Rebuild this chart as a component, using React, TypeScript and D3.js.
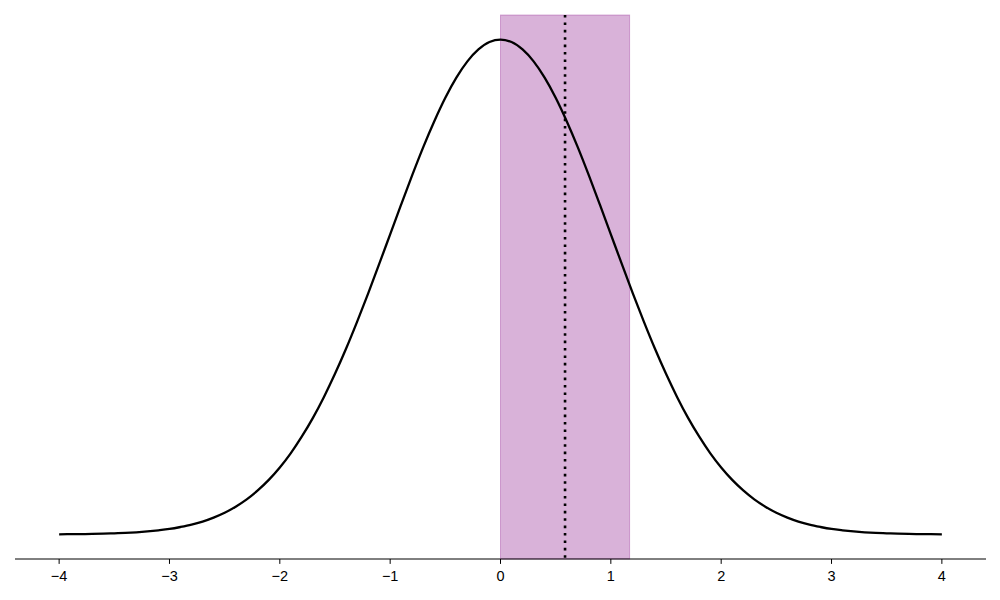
import React from "react";
import * as d3 from "d3";

// Density curve (x, density), step 0.1
const xValues = [
  -4, -3.9, -3.8, -3.7, -3.6, -3.5, -3.4, -3.3, -3.2, -3.1,
  -3, -2.9, -2.8, -2.7, -2.6, -2.5, -2.4, -2.3, -2.2, -2.1,
  -2, -1.9, -1.8, -1.7, -1.6, -1.5, -1.4, -1.3, -1.2, -1.1,
  -1, -0.9, -0.8, -0.7, -0.6, -0.5, -0.4, -0.3, -0.2, -0.1,
  0, 0.1, 0.2, 0.3, 0.4, 0.5, 0.6, 0.7, 0.8, 0.9,
  1, 1.1, 1.2, 1.3, 1.4, 1.5, 1.6, 1.7, 1.8, 1.9,
  2, 2.1, 2.2, 2.3, 2.4, 2.5, 2.6, 2.7, 2.8, 2.9,
  3, 3.1, 3.2, 3.3, 3.4, 3.5, 3.6, 3.7, 3.8, 3.9, 4];
const densityValues = [
  0.0001, 0.0002, 0.0003, 0.0004, 0.0006, 0.0009, 0.0012, 0.0017, 0.0024, 0.0033,
  0.0044, 0.006, 0.0079, 0.0104, 0.0136, 0.0175, 0.0224, 0.0283, 0.0355, 0.044,
  0.054, 0.0656, 0.079, 0.094, 0.1109, 0.1295, 0.1497, 0.1714, 0.1942, 0.2179,
  0.242, 0.2661, 0.2897, 0.3123, 0.3332, 0.3521, 0.3683, 0.3814, 0.391, 0.397,
  0.3989, 0.397, 0.391, 0.3814, 0.3683, 0.3521, 0.3332, 0.3123, 0.2897, 0.2661,
  0.242, 0.2179, 0.1942, 0.1714, 0.1497, 0.1295, 0.1109, 0.094, 0.079, 0.0656,
  0.054, 0.044, 0.0355, 0.0283, 0.0224, 0.0175, 0.0136, 0.0104, 0.0079, 0.006,
  0.0044, 0.0033, 0.0024, 0.0017, 0.0012, 0.0009, 0.0006, 0.0004, 0.0003, 0.0002, 0.0001];
const bandStart = 0;
const bandEnd = 1.17;
const markerValue = 0.585;
const tickValues = [-4, -3, -2, -1, 0, 1, 2, 3, 4];

export default function App() {
  const W = 1000, H = 600;
  const left = 15, right = 986, top = 15, bottom = 559;
  const x = d3.scaleLinear().domain([-4.4, 4.4]).range([left, right]);
  const y = d3.scaleLinear().domain([-0.0198, 0.4188]).range([bottom, top]);
  const pts: [number, number][] = xValues.map((v, i) => [v, densityValues[i]]);
  const line = d3.line<[number, number]>()
    .x(d => x(d[0]))
    .y(d => y(d[1]))
    .curve(d3.curveMonotoneX);
  const fmt = (v: number) => (v < 0 ? "\u2212" + Math.abs(v) : String(v));
  return (
    <svg width={W} height={H} style={{ position: "absolute", left: 0, top: 0, background: "#fff" }}
      fontFamily="'Liberation Sans', Arial, sans-serif">
      <rect x={x(bandStart)} y={top} width={x(bandEnd) - x(bandStart)} height={bottom - top}
        fill="purple" fillOpacity={0.3} stroke="purple" strokeOpacity={0.3} strokeWidth={1} />
      <line x1={x(markerValue)} x2={x(markerValue)} y1={top} y2={bottom}
        stroke="#000" strokeWidth={2.6} strokeDasharray="2.6 4.8" />
      <path d={line(pts) || ""} fill="none" stroke="#000" strokeWidth={2.3}
        strokeLinejoin="round" strokeLinecap="butt" />
      <line x1={left} x2={right} y1={bottom} y2={bottom} stroke="#000" strokeWidth={1} />
      {tickValues.map(t => (
        <g key={t} transform={`translate(${x(t)},${bottom})`}>
          <line y1={0} y2={4.9} stroke="#000" strokeWidth={1} />
          <text y={21.6} textAnchor="middle" fontSize={14.5} fill="#000">{fmt(t)}</text>
        </g>
      ))}
    </svg>
  );
}
